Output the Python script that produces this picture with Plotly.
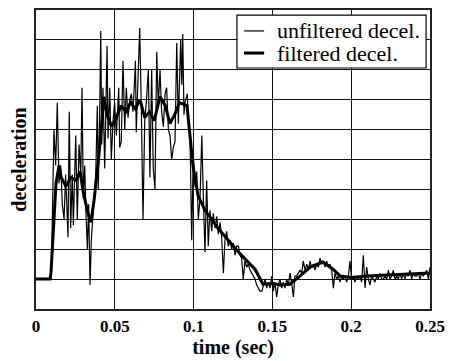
import plotly.graph_objects as go

# unfiltered deceleration (time in s, value in grid units)
t_raw = [0.0, 0.0089, 0.0097, 0.0114, 0.0125, 0.0135, 0.0146, 0.0157, 0.0167, 0.0178,
         0.0188, 0.0203, 0.0211, 0.0220, 0.0230, 0.0237, 0.0252, 0.0262, 0.0273, 0.0284,
         0.0292, 0.0300, 0.0309, 0.0317, 0.0326, 0.0334, 0.0343, 0.0351, 0.0364, 0.0379,
         0.0389, 0.0395, 0.0403, 0.0411, 0.0417, 0.0425, 0.0436, 0.0451, 0.0457, 0.0468,
         0.0478, 0.0489, 0.0499, 0.0510, 0.0525, 0.0531, 0.0541, 0.0552, 0.0563, 0.0573,
         0.0584, 0.0595, 0.0605, 0.0615, 0.0626, 0.0631, 0.0636, 0.0647, 0.0658, 0.0668,
         0.0679, 0.0690, 0.0700, 0.0713, 0.0723, 0.0734, 0.0744, 0.0755, 0.0766, 0.0776,
         0.0787, 0.0797, 0.0808, 0.0819, 0.0829, 0.0840, 0.0850, 0.0861, 0.0871, 0.0882,
         0.0893, 0.0903, 0.0918, 0.0925, 0.0931, 0.0939, 0.0945, 0.0960, 0.0966, 0.0977,
         0.0988, 0.0998, 0.1009, 0.1020, 0.1030, 0.1041, 0.1052, 0.1062, 0.1072, 0.1083,
         0.1093, 0.1104, 0.1115, 0.1125, 0.1136, 0.1147, 0.1157, 0.1168, 0.1178, 0.1189,
         0.1199, 0.1210, 0.1220, 0.1231, 0.1242, 0.1252, 0.1263, 0.1273, 0.1284, 0.1294,
         0.1305, 0.1315, 0.1326, 0.1337, 0.1347, 0.1358, 0.1369, 0.1379, 0.1390, 0.1400,
         0.1411, 0.1421, 0.1434, 0.1453, 0.1464, 0.1474, 0.1485, 0.1496, 0.1506, 0.1516,
         0.1527, 0.1537, 0.1548, 0.1559, 0.1569, 0.1580, 0.1591, 0.1601, 0.1612, 0.1622,
         0.1633, 0.1643, 0.1654, 0.1664, 0.1675, 0.1686, 0.1696, 0.1707, 0.1718, 0.1728,
         0.1739, 0.1749, 0.1760, 0.1770, 0.1781, 0.1792, 0.1802, 0.1813, 0.1823, 0.1834,
         0.1845, 0.1855, 0.1865, 0.1876, 0.1887, 0.1897, 0.1908, 0.1918, 0.1929, 0.1940,
         0.1950, 0.1961, 0.1971, 0.1982, 0.1992, 0.2003, 0.2014, 0.2024, 0.2035, 0.2045,
         0.2056, 0.2066, 0.2077, 0.2088, 0.2098, 0.2109, 0.2119, 0.2130, 0.2141, 0.2151,
         0.2162, 0.2172, 0.2183, 0.2193, 0.2204, 0.2214, 0.2225, 0.2236, 0.2246, 0.2257,
         0.2267, 0.2278, 0.2289, 0.2299, 0.2310, 0.2320, 0.2331, 0.2341, 0.2352, 0.2362,
         0.2373, 0.2384, 0.2394, 0.2405, 0.2415, 0.2426, 0.2437, 0.2447, 0.2458, 0.2468,
         0.2479, 0.2490, 0.2500]
v_raw = [0.0, 0.0, 0.0, 5.0, 3.8, 5.9, 3.2, 3.8, 2.5, 2.0,
         3.5, 1.4, 5.6, 1.7, 3.5, 1.8, 4.8, 2.0, 4.5, 3.5,
         6.4, 2.7, 3.8, 2.2, 1.0, 2.5, -0.2, 1.3, 2.5, 3.5,
         5.8, 3.0, 5.2, 8.3, 4.5, 6.4, 3.7, 7.8, 4.7, 6.4,
         4.0, 5.3, 5.9, 4.8, 6.4, 4.4, 4.6, 7.3, 5.0, 6.4,
         5.4, 6.0, 6.2, 5.6, 6.7, 7.3, 4.9, 7.0, 8.4, 5.8,
         2.0, 5.3, 5.9, 7.0, 3.4, 7.0, 3.7, 3.0, 7.6, 5.8,
         7.0, 5.6, 5.1, 6.2, 6.4, 5.0, 4.8, 4.0, 4.4, 4.6,
         7.9, 5.2, 8.0, 6.5, 8.2, 5.5, 5.9, 6.2, 5.2, 4.9,
         1.3, 4.2, 3.1, 3.6, 2.0, 2.7, 4.8, 2.7, 0.9, 3.3,
         1.1, 2.3, 1.6, 2.2, 1.7, 2.1, 1.5, 1.9, 1.4, 0.2,
         1.3, 1.6, 1.1, 1.3, 1.0, 1.2, 0.8, 1.1, 1.1, 0.8,
         0.7, 0.0, 0.6, 0.4, 0.5, 0.3, 0.2, 0.1, 0.0, -0.2,
         -0.3, -0.4, -0.4, 0.0, -0.3, -0.1, -0.3, 0.1, -0.4, -0.1,
         -0.6, -0.2, 0.0, -0.3, -0.1, -0.3, 0.0, -0.2, 0.2, -0.1,
         -0.6, 0.1, 0.1, 0.2, 0.3, 0.2, 0.6, 0.3, 0.5, 0.3,
         0.6, 0.4, 0.5, 0.3, 0.5, 0.4, 0.7, 0.5, 0.6, 0.4,
         0.6, 0.4, 0.5, 0.3, -0.3, 0.2, 0.0, 0.1, -0.1, 0.1,
         0.0, 0.1, -0.1, 0.1, 0.6, 0.0, 0.1, -0.1, 0.1, 0.0,
         0.1, -0.1, 0.8, -0.3, 0.4, 0.0, -0.2, 0.1, 0.0, -0.1,
         0.1, 0.0, 0.2, 0.0, 0.0, 0.1, 0.0, 0.3, 0.0, 0.1,
         0.3, 0.0, 0.1, 0.0, 0.2, 0.0, 0.2, 0.0, 0.2, 0.1,
         0.3, 0.0, 0.2, 0.1, 0.1, 0.2, 0.0, 0.2, 0.1, 0.2,
         0.3, 0.0, 0.4]

# filtered deceleration
t_filt = [0.0, 0.0089, 0.0095, 0.0127, 0.0146, 0.0160, 0.0190, 0.0220, 0.0254, 0.0280,
          0.0300, 0.0330, 0.0349, 0.0370, 0.0400, 0.0431, 0.0450, 0.0480, 0.0510, 0.0540,
          0.0570, 0.0600, 0.0630, 0.0660, 0.0690, 0.0720, 0.0750, 0.0787, 0.0820, 0.0850,
          0.0880, 0.0910, 0.0958, 0.0996, 0.1028, 0.1072, 0.1115, 0.1155, 0.1220, 0.1280,
          0.1340, 0.1390, 0.1440, 0.1500, 0.1550, 0.1610, 0.1675, 0.1740, 0.1820, 0.1885,
          0.1930, 0.2000, 0.2100, 0.2200, 0.2300, 0.2400, 0.2500]
v_filt = [0.0, 0.0, 0.2, 3.2, 3.8, 3.4, 3.1, 3.4, 3.3, 3.6,
          2.9, 2.2, 1.9, 2.7, 4.2, 6.1, 5.5, 5.1, 5.4, 5.8,
          5.6, 5.9, 5.7, 6.0, 5.4, 5.6, 5.3, 6.1, 5.8, 5.2,
          5.5, 5.9, 5.8, 3.8, 2.8, 2.3, 2.0, 1.7, 1.3, 0.93,
          0.6, 0.33, -0.17, -0.15, -0.2, -0.17, 0.1, 0.4, 0.57, 0.33,
          0.1, 0.05, 0.1, 0.12, 0.15, 0.17, 0.2]

series_names = ["unfiltered decel.", "filtered decel."]
x_tick_vals = [0, 0.05, 0.1, 0.15, 0.2, 0.25]
x_tick_text = ["0", "0.05", "0.1", "0.15", "0.2", "0.25"]

SERIF = "Liberation Serif, Times New Roman, serif"
WIDTHS = [1.2, 3]

fig = go.Figure()
fig.add_trace(go.Scatter(x=t_raw, y=v_raw, mode="lines", name=series_names[0],
                         line=dict(color="black", width=WIDTHS[0]), showlegend=False))
fig.add_trace(go.Scatter(x=t_filt, y=v_filt, mode="lines", name=series_names[1],
                         line=dict(color="black", width=WIDTHS[1]), showlegend=False))

# legend box drawn in paper coordinates
shapes = [dict(type="rect", xref="paper", yref="paper", x0=0.510, x1=0.990, y0=0.806, y1=0.983,
               line=dict(color="black", width=1.2), fillcolor="white", layer="above")]
annotations = []
for name, w, yy in zip(series_names, WIDTHS, [0.930, 0.856]):
    shapes.append(dict(type="line", xref="paper", yref="paper", x0=0.528, x1=0.579, y0=yy, y1=yy,
                       line=dict(color="black", width=w), layer="above"))
    annotations.append(dict(xref="paper", yref="paper", x=0.607, y=yy, text=name,
                            showarrow=False, xanchor="left", yanchor="middle",
                            font=dict(family=SERIF, size=22, color="black")))

fig.update_layout(
    width=454, height=353,
    margin=dict(l=28, r=32, t=2, b=52),
    paper_bgcolor="white", plot_bgcolor="white",
    font=dict(family=SERIF, color="black"),
    shapes=shapes, annotations=annotations,
)
fig.update_xaxes(range=[0, 0.25], tickvals=x_tick_vals, ticktext=x_tick_text,
                 showgrid=True, gridcolor="#111", gridwidth=1.2,
                 showline=True, linecolor="#222", linewidth=1.5, mirror=True,
                 ticks="", zeroline=False, automargin=False,
                 ticklabelstandoff=1,
                 tickfont=dict(family=SERIF, size=17, color="black", weight="bold"),
                 title=dict(text="time (sec)", standoff=3,
                            font=dict(family=SERIF, size=20, color="black", weight="bold")))
fig.update_yaxes(range=[-1, 9], dtick=1, tick0=0,
                 showgrid=True, gridcolor="#111", gridwidth=1.2,
                 showline=True, linecolor="#222", linewidth=1.5, mirror=True,
                 ticks="", zeroline=False, showticklabels=False, automargin=False,
                 title=dict(text="deceleration", standoff=4,
                            font=dict(family=SERIF, size=20, color="black", weight="bold")))

fig.write_html("out.html")
